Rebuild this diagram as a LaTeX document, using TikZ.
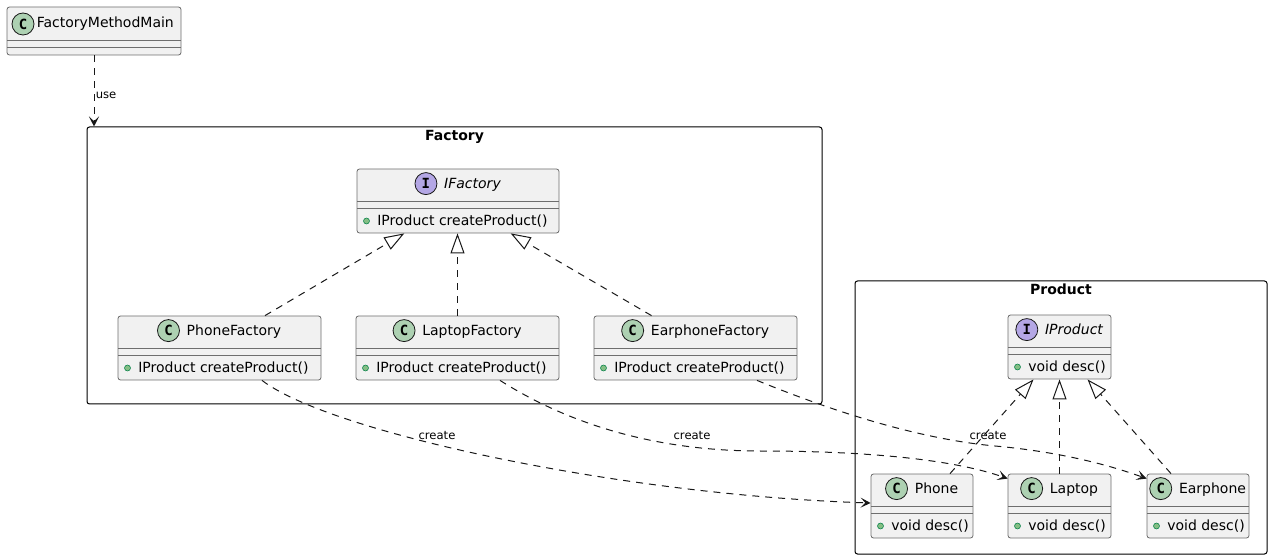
\documentclass[tikz,border=0pt]{standalone}
\usepackage{fontspec}
\setmainfont{DejaVu Sans}
\setmonofont{DejaVu Sans Mono}
\usetikzlibrary{fit,calc,arrows.meta}

\definecolor{boxfill}{HTML}{F1F1F1}
\definecolor{boxline}{HTML}{6E6E6E}
\definecolor{linec}{HTML}{181818}
\definecolor{classc}{HTML}{ADD1B2}
\definecolor{ifacec}{HTML}{B4A7E5}
\definecolor{dotfill}{HTML}{84BE84}
\definecolor{dotline}{HTML}{038048}

\tikzset{
  classbox/.style={draw=boxline, fill=boxfill, line width=0.6pt, rounded corners=1.9pt, inner sep=0pt},
  classname/.style={inner sep=0pt, font=\fontsize{10.5}{12}\selectfont},
  badge/.style={circle, draw=linec, line width=0.6pt, inner sep=0pt, minimum size=16.5pt,
    font=\ttfamily\bfseries\fontsize{10.5}{12}\selectfont},
  sepline/.style={draw=boxline, line width=0.6pt},
  member/.style={inner sep=0pt, anchor=base west, font=\fontsize{10.5}{12}\selectfont},
  memberdot/.style={circle, draw=dotline, fill=dotfill, line width=0.4pt, inner sep=0pt, minimum size=4.5pt},
  package/.style={draw=black, line width=0.75pt, rounded corners=1.9pt, inner sep=0pt},
  pkgtitle/.style={inner sep=0pt, anchor=base, font=\bfseries\fontsize{10.5}{12}\selectfont},
  depends/.style={draw=linec, line width=0.75pt, dash pattern=on 5.25pt off 4.5pt,
    -{Stealth[length=7.5pt, width=7.5pt, inset=3.5pt]}},
  realizes/.style={draw=linec, line width=0.75pt, dash pattern=on 5.25pt off 4.5pt,
    -{Triangle[open, length=15pt, width=10.5pt, fill=white]}},
  edgelabel/.style={inner sep=0pt, font=\fontsize{8.7}{10}\selectfont},
}

% class box: id, left, top, right, letter, badge colour, title, member
\newcommand{\umlclass}[8]{%
  \node[classbox, fit={(#2,#3) (#4,#3+64)}] (#1) {};
  \node[classname, anchor=base] (#1-name) at ($(#1.north)+(14.5,20)$) {#7};
  \node[badge, fill=#6] (#1-badge) at ($(#1-name.base west)+(-18,-5)$) {#5};
  \draw[sepline] (#2,#3+32) -- (#4,#3+32);
  \draw[sepline] (#2,#3+39) -- (#4,#3+39);
  \node[memberdot] (#1-dot) at (#2+9.5,#3+52) {};
  \node[member] (#1-member) at (#2+20,#3+56.5) {#8};
}

\begin{document}
\begin{tikzpicture}[x=0.75pt, y=-0.75pt]
  \useasboundingbox (0,0) rectangle (1271,559);

  % packages
  \node[package, fit={(87,127) (822,404)}] (Factory) {};
  \node[pkgtitle] (Factory-title) at (454.5,140.5) {Factory};
  \node[package, fit={(855,281) (1267,554)}] (Product) {};
  \node[pkgtitle] (Product-title) at (1061,294.5) {Product};

  % main class
  \node[classbox, fit={(7,7) (181,55)}] (Main) {};
  \node[classname, anchor=base west] (Main-name) at (36.5,28) {FactoryMethodMain};
  \node[badge, fill=classc] (Main-badge) at (23,24) {C};
  \draw[sepline] (7,40) -- (181,40);
  \draw[sepline] (7,47) -- (181,47);

  % factories
  \umlclass{IFactory}{357}{169}{559}{I}{ifacec}{\itshape IFactory}{IProduct createProduct()}
  \umlclass{PhoneFactory}{118}{316}{321}{C}{classc}{PhoneFactory}{IProduct createProduct()}
  \umlclass{LaptopFactory}{356}{316}{559}{C}{classc}{LaptopFactory}{IProduct createProduct()}
  \umlclass{EarphoneFactory}{594}{316}{797}{C}{classc}{EarphoneFactory}{IProduct createProduct()}

  % products
  \umlclass{IProduct}{1008}{315}{1111}{I}{ifacec}{\itshape IProduct}{void desc()}
  \umlclass{Phone}{871}{474}{973}{C}{classc}{Phone}{void desc()}
  \umlclass{Laptop}{1008}{474}{1111}{C}{classc}{Laptop}{void desc()}
  \umlclass{Earphone}{1147}{474}{1249}{C}{classc}{Earphone}{void desc()}

  % use
  \draw[depends] (Main) -- (Main.south |- Factory.north);
  \node[edgelabel, anchor=base west] (use-label) at (95.5,98.3) {use};

  % realizations
  \draw[realizes] ($(PhoneFactory.north)+(45.5,0)$) -- ($(IFactory.south)+(-53.7,0)$);
  \draw[realizes] (LaptopFactory.north) -- (LaptopFactory.north |- IFactory.south);
  \draw[realizes] ($(EarphoneFactory.north)+(-44,0)$) -- ($(IFactory.south)+(52.7,0)$);
  \draw[realizes] ($(Phone.north)+(28,0)$) -- ($(IProduct.south)+(-26,0)$);
  \draw[realizes] (Laptop) -- (IProduct);
  \draw[realizes] ($(Earphone.north)+(-27,0)$) -- ($(IProduct.south)+(28,0)$);

  % create
  \coordinate (bend2) at (760,451);
  \coordinate (bend3) at (995,446);
  \draw[depends] ($(PhoneFactory.south)+(42.5,0)$) .. controls +(68,52) and +(-250,-8) .. ($(Phone.west)+(0,-3)$);
  \draw[depends] ($(LaptopFactory.south)+(42.5,0)$) .. controls +(55,35) and +(-120,0) .. (bend2)
    .. controls +(120,0) and +(-48,-17) .. ($(Laptop.north west)+(0,5)$);
  \draw[depends] ($(EarphoneFactory.south)+(61.5,0)$) .. controls +(93,38) and +(-65,-6) .. (bend3)
    .. controls +(55,5) and +(-47,-17) .. ($(Earphone.north west)+(0,5)$);
  \node[edgelabel, anchor=base] (create1) at (437,440) {create};
  \node[edgelabel, anchor=base] (create2) at (692,440) {create};
  \node[edgelabel, anchor=base] (create3) at (988,440) {create};
\end{tikzpicture}
\end{document}
